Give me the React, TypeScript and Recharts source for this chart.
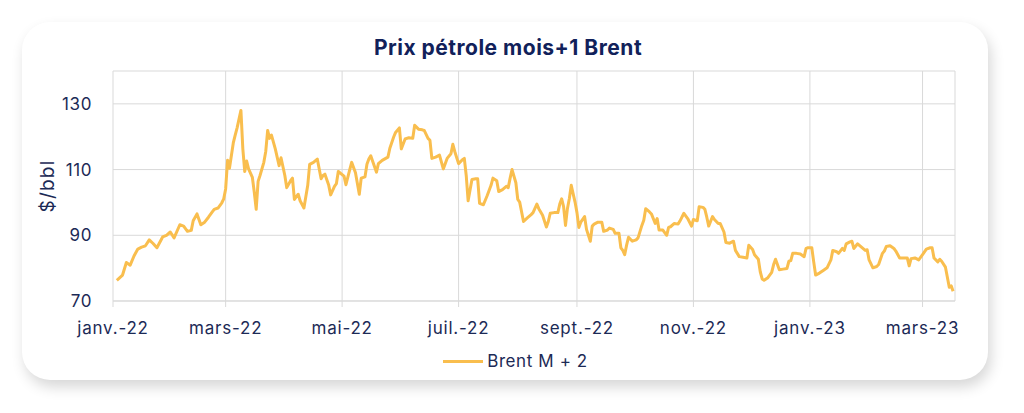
import { LineChart, Line, XAxis, YAxis, CartesianGrid, Legend } from 'recharts';

// days counted from 1 Jan 2022
const days = [
  2, 5, 7, 9, 11, 13, 15, 17, 19, 21,
  23, 26, 28, 30, 32, 35, 37, 39, 41, 42,
  44, 46, 48, 50, 52, 53, 55, 57, 58, 59,
  60, 61, 63, 64, 65, 67, 68, 69, 70, 71,
  73, 74, 75, 76, 77, 79, 80, 81, 82, 83,
  85, 87, 88, 90, 91, 93, 94, 95, 97, 98,
  100, 102, 103, 105, 107, 109, 110,
  111, 113, 114, 116, 117, 118, 121, 122, 124, 125,
  127, 129, 130, 132, 133, 134, 135, 138, 139, 141,
  144, 145, 147, 148, 150, 151, 153, 155, 157, 158,
  160, 162, 163, 165, 166, 167, 169, 171, 173, 175,
  177, 178, 179, 181, 183, 184, 185, 186, 188, 190,
  191, 192, 194, 196, 198, 199, 201, 202, 204, 206,
  207, 208, 209, 211, 212, 213, 215, 217, 219, 220,
  222, 223, 225,
  227, 228, 229, 231, 233, 234, 235, 236, 237, 238,
  239, 240, 242, 243, 244, 245, 247, 248, 250, 251,
  252, 254, 256, 257, 259, 260, 262, 263, 265, 266,
  267, 268, 269, 270, 272, 274, 275, 277, 278, 279,
  281, 282, 284, 285, 286, 288, 290, 291, 292, 294,
  296, 297, 299, 301, 303, 304, 306, 307, 309, 310,
  311, 312, 314, 315, 317, 318, 320, 321, 323, 325,
  326, 328, 330, 332, 333, 335, 336, 338, 339, 340,
  341, 343, 345, 346, 347, 349, 351, 353, 354, 355,
  356, 358, 360, 362, 363, 364, 366, 367, 368, 370,
  372, 374, 376, 377, 379, 380, 382, 383, 384, 386,
  387, 388, 390, 392, 394, 395, 396, 398, 400, 401,
  403, 404, 405, 407, 409, 410, 412, 414, 416, 417,
  418, 420, 422, 424, 426, 428, 429, 430, 432, 433,
  434, 436, 438, 439, 440,
];

const brent = [
  76.3, 77.9, 81.7, 80.9, 83.7, 85.8, 86.4, 86.8, 88.6, 87.5,
  86.2, 89.5, 90.0, 91.0, 89.2, 93.2, 92.8, 91.2, 91.5, 94.4,
  96.5, 93.2, 94.0, 95.5, 97.1, 97.9, 98.3, 99.9, 101.1, 104.1,
  112.8, 110.4, 118.1, 120.5, 122.7, 128.0, 116.3, 109.4, 112.6, 110.2,
  107.6, 103.1, 97.9, 106.4, 108.2, 112.2, 115.5, 121.9, 119.5, 120.5,
  116.3, 111.2, 113.6, 108.2, 104.5, 106.6, 107.4, 100.9, 102.5, 100.5,
  98.3, 105.2, 111.6, 112.2, 113.2, 107.2, 108.2,
  108.6, 105.2, 102.3, 104.9, 105.7, 109.4, 108.0, 105.4, 110.0, 112.2,
  109.0, 102.5, 107.4, 107.8, 111.6, 113.2, 114.2, 109.2, 111.8, 112.8,
  113.8, 116.5, 119.9, 121.3, 122.7, 116.3, 119.3, 119.7, 119.5, 123.5,
  122.3, 122.1, 121.9, 119.5, 118.9, 113.4, 113.8, 114.4, 110.2, 113.4,
  114.8, 117.7, 115.5, 111.8, 113.0, 113.4, 108.2, 100.5, 107.0, 107.2,
  107.2, 99.7, 99.3, 102.1, 105.2, 107.4, 106.6, 103.3, 103.9, 104.9,
  104.5, 107.4, 110.0, 106.0, 100.9, 100.1, 94.2, 95.3, 96.3, 96.9,
  99.5, 98.1, 96.1,
  92.5, 94.2, 96.7, 96.9, 96.9, 99.5, 101.1, 98.7, 93.0, 98.1,
  101.1, 105.2, 100.1, 96.9, 92.4, 94.0, 95.7, 91.8, 88.2, 92.8,
  93.4, 94.0, 94.0, 91.2, 91.6, 92.2, 91.8, 90.6, 90.6, 86.2,
  85.4, 84.1, 87.0, 89.4, 88.2, 88.6, 89.2, 93.0, 94.6, 98.1,
  97.1, 96.5, 93.6, 95.1, 91.6, 91.6, 90.0, 92.4, 92.6, 93.6,
  93.4, 94.4, 96.7, 95.1, 92.8, 94.8, 94.4, 98.7, 98.5, 97.9,
  95.5, 92.8, 95.7, 94.8, 93.6, 93.6, 91.0, 87.8, 87.6, 88.2,
  85.4, 83.5, 83.3, 83.1, 87.0, 85.7, 84.1, 82.7, 78.9, 76.7,
  76.3, 77.1, 78.7, 81.1, 82.7, 79.5, 79.7, 79.9, 82.1, 82.3,
  84.5, 84.5, 84.3, 83.5, 86.0, 86.2, 86.2, 81.9, 77.9, 78.5,
  79.3, 80.1, 82.5, 85.4, 85.0, 84.5, 86.0, 85.4, 87.4, 88.0,
  88.2, 86.0, 87.4, 86.4, 85.4, 85.6, 82.5, 80.1, 80.5, 81.1,
  84.5, 85.2, 86.6, 86.8, 86.0, 85.2, 83.1, 83.1, 83.1, 80.7,
  82.9, 83.1, 82.5, 84.1, 85.8, 86.2, 86.2, 83.1, 81.9, 82.7,
  82.1, 80.3, 74.2, 74.6, 73.0,
];

const tickDays = [0, 59, 120, 181, 243, 304, 365, 424];
const tickLabels = ['janv.-22', 'mars-22', 'mai-22', 'juil.-22', 'sept.-22', 'nov.-22', 'janv.-23', 'mars-23'];
const yTicks = [70, 90, 110, 130];

const data = days.map((d, i) => ({ day: d, brent: brent[i] }));

const NAVY = '#1c2a56';
const LINE = '#F9BE4E';
const GRID = '#d9d9d9';
const FONT = 'Inter, "Open Sans", sans-serif';

const LegendContent = () => (
  <div
    style={{
      display: 'flex',
      justifyContent: 'center',
      alignItems: 'center',
      height: 24,
      fontFamily: FONT,
      fontSize: 17,
      letterSpacing: 0.6,
      color: NAVY,
    }}
  >
    <span style={{ display: 'inline-block', width: 40, height: 3, background: LINE, marginRight: 4 }} />
    Brent M + 2
  </div>
);

export default function App() {
  return (
    <div style={{ position: 'relative', width: 1024, height: 413, margin: -8, background: '#fff', overflow: 'hidden' }}>
      <div
        style={{
          position: 'absolute',
          left: 22,
          top: 22,
          width: 966,
          height: 358,
          borderRadius: 28,
          background: '#fff',
          boxShadow: '3px 7px 14px rgba(0,0,0,0.16)',
        }}
      />
      <div
        style={{
          position: 'absolute',
          left: 0,
          top: 35,
          width: 1016,
          height: 26,
          lineHeight: '26px',
          textAlign: 'center',
          fontFamily: FONT,
          fontWeight: 700,
          fontSize: 21,
          letterSpacing: 0.5,
          color: '#11215a',
        }}
      >
        Prix pétrole mois+1 Brent
      </div>
      <div style={{ position: 'absolute', left: 0, top: 0 }}>
        <LineChart width={1024} height={413} data={data} margin={{ top: 71, right: 69, left: 0, bottom: 40 }}>
          <CartesianGrid stroke={GRID} strokeWidth={1} />
          <XAxis
            dataKey="day"
            type="number"
            domain={[0, 441]}
            ticks={tickDays}
            tickFormatter={(v: number) => tickLabels[tickDays.indexOf(v)] ?? ''}
            height={48}
            stroke={GRID}
            tickSize={6}
            tickMargin={15}
            tick={{ fill: NAVY, fontSize: 17, fontFamily: FONT, letterSpacing: 0.8 }}
            interval={0}
          />
          <YAxis
            domain={[70, 140]}
            ticks={yTicks}
            width={113}
            axisLine={false}
            tickLine={false}
            tickSize={0}
            tickMargin={21}
            tick={{ fill: NAVY, fontSize: 17, fontFamily: FONT, letterSpacing: 0.6 }}
            label={{ value: '$/bbl', angle: -90, position: 'center', dx: -9, fill: NAVY, fontSize: 19, fontFamily: FONT, letterSpacing: 1.2 }}
          />
          <Legend
            verticalAlign="bottom"
            height={24}
            content={<LegendContent />}
            wrapperStyle={{ left: 0, width: 1031 }}
          />
          <Line
            type="linear"
            dataKey="brent"
            name="Brent M + 2"
            stroke={LINE}
            strokeWidth={3}
            strokeLinejoin="round"
            dot={false}
            isAnimationActive={false}
          />
        </LineChart>
      </div>
    </div>
  );
}
